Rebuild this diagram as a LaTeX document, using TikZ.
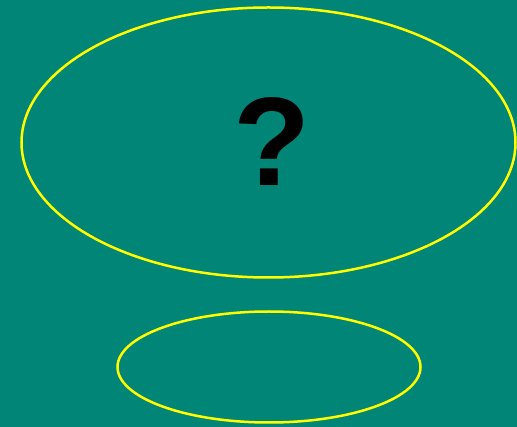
\documentclass[tikz,border=0pt]{standalone}
\usepackage{fontspec}
\setmainfont{Liberation Sans}
\definecolor{bgteal}{HTML}{008577}
\definecolor{ringyellow}{HTML}{FFFF00}
\begin{document}
\begin{tikzpicture}[x=1pt,y=-1pt,
  ring/.style={draw=ringyellow,line width=2.5pt}]
\fill[bgteal] (0,0) rectangle (517,427);
\useasboundingbox (0,0) rectangle (517,427);
\draw[ring] (268.5,142.5) ellipse [x radius=247, y radius=135];
\draw[ring] (269,367) ellipse [x radius=151.5, y radius=55.5];
\node[inner sep=0pt,anchor=base,font=\fontsize{126}{130}\selectfont\bfseries] (q) at (271.5,186) {?};
\end{tikzpicture}
\end{document}
